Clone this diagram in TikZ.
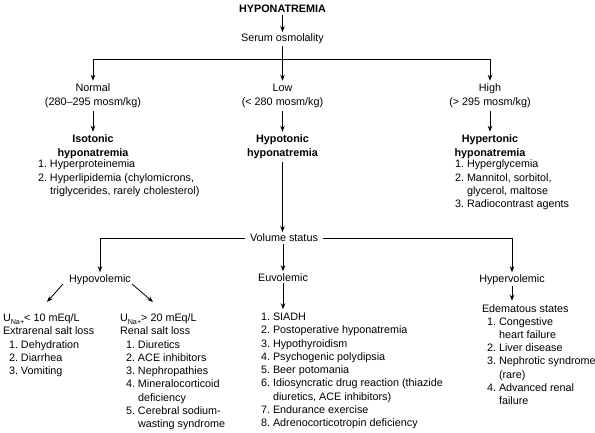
\documentclass[tikz,border=0pt]{standalone}
\usepackage{fontspec}
\setmainfont{Liberation Sans}
\usetikzlibrary{arrows.meta}
\newcommand{\una}{U\raisebox{-0.45ex}{\fontsize{7.2}{8}\selectfont Na+}}
\tikzset{
  txt/.style={inner sep=2pt, outer sep=0pt, font=\fontsize{10.8}{13.25}\selectfont},
  bold/.style={txt, font=\fontsize{10.8}{13.25}\selectfont\bfseries},
  arr/.style={-{Stealth[length=6pt,width=4.5pt]}, line width=0.8pt},
  ln/.style={line width=0.8pt}
}
\begin{document}
\begin{tikzpicture}[x=1pt,y=-1pt]
\useasboundingbox (0,0) rectangle (595,433);
% top
\node[bold, anchor=base] (title) at (282.5,13) {HYPONATREMIA};
\node[txt, anchor=base] (serum) at (282.5,42) {Serum osmolality};
\coordinate (b1) at (282.5,59);
\node[txt, anchor=base] (normal) at (93,92) {\begin{tabular}[t]{@{}c@{}}Normal\\(280–295 mosm/kg)\end{tabular}};
\node[txt, anchor=base] (low) at (282.5,92) {\begin{tabular}[t]{@{}c@{}}Low\\(< 280 mosm/kg)\end{tabular}};
\node[txt, anchor=base] (high) at (490,92) {\begin{tabular}[t]{@{}c@{}}High\\(> 295 mosm/kg)\end{tabular}};
\node[bold, anchor=base] (iso) at (93,143) {\begin{tabular}[t]{@{}c@{}}Isotonic\\hyponatremia\end{tabular}};
\node[bold, anchor=base] (hypot) at (282.5,143) {\begin{tabular}[t]{@{}c@{}}Hypotonic\\hyponatremia\end{tabular}};
\node[bold, anchor=base] (hypert) at (490,143) {\begin{tabular}[t]{@{}c@{}}Hypertonic\\hyponatremia\end{tabular}};
\node[txt, anchor=base west] (isolist) at (36,168) {\begin{tabular}[t]{@{}r@{\hspace{3pt}}l@{}}
1.&Hyperproteinemia\\
2.&Hyperlipidemia (chylomicrons,\\
&triglycerides, rarely cholesterol)\end{tabular}};
\node[txt, anchor=base west] (hypertlist) at (453,168) {\begin{tabular}[t]{@{}r@{\hspace{3pt}}l@{}}
1.&Hyperglycemia\\
2.&Mannitol, sorbitol,\\
&glycerol, maltose\\
3.&Radiocontrast agents\end{tabular}};
% volume status
\node[txt, inner xsep=5pt, anchor=base] (vol) at (284,242) {Volume status};
\node[txt, anchor=base] (hypov) at (100,282) {Hypovolemic};
\node[txt, anchor=base] (euv) at (283,281) {Euvolemic};
\node[txt, anchor=base] (hyperv) at (512,282) {Hypervolemic};
\node[txt, anchor=base west] (leftcol) at (1,321.5) {\begin{tabular}[t]{@{\hspace{6pt}}r@{\hspace{3pt}}l@{}}
\multicolumn{2}{@{}l@{}}{\una< 10 mEq/L}\\
\multicolumn{2}{@{}l@{}}{Extrarenal salt loss}\\
1.&Dehydration\\
2.&Diarrhea\\
3.&Vomiting\end{tabular}};
\node[txt, anchor=base west] (rightcol) at (118,321.5) {\begin{tabular}[t]{@{\hspace{6pt}}r@{\hspace{3pt}}l@{}}
\multicolumn{2}{@{}l@{}}{\una> 20 mEq/L}\\
\multicolumn{2}{@{}l@{}}{Renal salt loss}\\
1.&Diuretics\\
2.&ACE inhibitors\\
3.&Nephropathies\\
4.&Mineralocorticoid\\
&deficiency\\
5.&Cerebral sodium-\\
&wasting syndrome\end{tabular}};
\node[txt, anchor=base west] (euvlist) at (259,320.5) {\begin{tabular}[t]{@{}r@{\hspace{3pt}}l@{}}
1.&SIADH\\
2.&Postoperative hyponatremia\\
3.&Hypothyroidism\\
4.&Psychogenic polydipsia\\
5.&Beer potomania\\
6.&Idiosyncratic drug reaction (thiazide\\
&diuretics, ACE inhibitors)\\
7.&Endurance exercise\\
8.&Adrenocorticotropin deficiency\end{tabular}};
\node[txt, anchor=base west] (edema) at (480,312) {\begin{tabular}[t]{@{\hspace{5pt}}r@{\hspace{3pt}}l@{}}
\multicolumn{2}{@{}l@{}}{Edematous states}\\
1.&Congestive\\
&heart failure\\
2.&Liver disease\\
3.&Nephrotic syndrome\\
&(rare)\\
4.&Advanced renal\\
&failure\end{tabular}};
\coordinate (dl1) at (63,284);
\coordinate (dl2) at (47,302);
\coordinate (dr1) at (132,284);
\coordinate (dr2) at (153,302);
% connectors
\draw[arr] (title) -- (serum);
\draw[ln] (serum) -- (b1);
\draw[arr] (b1) -| (normal);
\draw[arr] (b1) -- (low);
\draw[arr] (b1) -| (high);
\draw[arr] (normal) -- (iso);
\draw[arr] (low) -- (hypot);
\draw[arr] (high) -- (hypert);
\draw[arr] (hypot) -- (hypot |- vol.north);
\draw[arr] (vol.west) -| (hypov);
\draw[arr] (vol.east) -| (hyperv);
\draw[arr] (vol.south -| euv) -- (euv);
\draw[arr] (euv) -- (euv |- euvlist.north);
\draw[arr] (hyperv) -- (hyperv |- edema.north);
\draw[arr] (dl1) -- (dl2);
\draw[arr] (dr1) -- (dr2);
\end{tikzpicture}
\end{document}
